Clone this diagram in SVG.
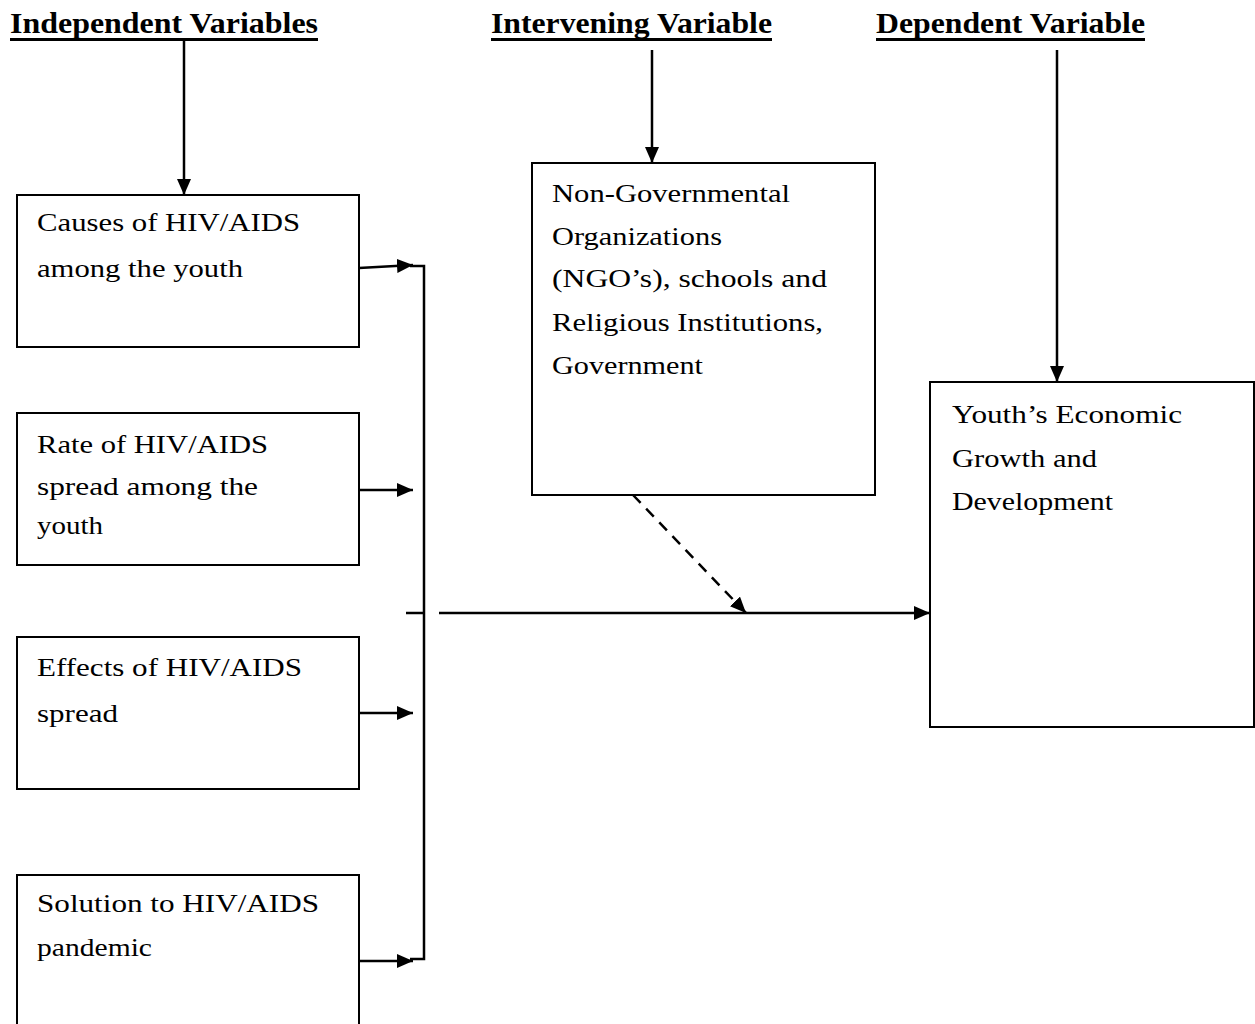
<svg xmlns="http://www.w3.org/2000/svg" width="1255" height="1024" viewBox="0 0 1255 1024">
<style>
.box{fill:#fff;stroke:#000;stroke-width:2}
.t{font-family:"Liberation Serif","Times New Roman",serif;font-size:26px;fill:#000}
.h{font-family:"Liberation Serif","Times New Roman",serif;font-size:29px;font-weight:bold;fill:#000}
.ln{stroke:#000;stroke-width:2.5;fill:none}
.ul{stroke:#000;stroke-width:3}
</style>
<defs>
<marker id="ahb" markerWidth="16" markerHeight="14" refX="16" refY="7" orient="auto" markerUnits="userSpaceOnUse" viewBox="0 0 16 14">
<path d="M0,0 L16,7 L0,14 z" fill="#000"/>
</marker>
</defs>
<g id="headers">
<text class="h" x="10" y="33" textLength="308" lengthAdjust="spacingAndGlyphs">Independent Variables</text>
<line class="ul" x1="10" y1="39.5" x2="318" y2="39.5"/>
<text class="h" x="491" y="33" textLength="281" lengthAdjust="spacingAndGlyphs">Intervening Variable</text>
<line class="ul" x1="491" y1="39.5" x2="772" y2="39.5"/>
<text class="h" x="876" y="33" textLength="269" lengthAdjust="spacingAndGlyphs">Dependent Variable</text>
<line class="ul" x1="876" y1="39.5" x2="1145" y2="39.5"/>
</g>
<g id="node-causes">
<rect class="box" x="17" y="195" width="342" height="152"/>
<text class="t" x="37" y="231" textLength="263" lengthAdjust="spacingAndGlyphs">Causes of HIV/AIDS</text>
<text class="t" x="37" y="277" textLength="206" lengthAdjust="spacingAndGlyphs">among the youth</text>
</g>
<g id="node-rate">
<rect class="box" x="17" y="413" width="342" height="152"/>
<text class="t" x="37" y="453" textLength="231" lengthAdjust="spacingAndGlyphs">Rate of HIV/AIDS</text>
<text class="t" x="37" y="495" textLength="221" lengthAdjust="spacingAndGlyphs">spread among the</text>
<text class="t" x="37" y="534" textLength="66" lengthAdjust="spacingAndGlyphs">youth</text>
</g>
<g id="node-effects">
<rect class="box" x="17" y="637" width="342" height="152"/>
<text class="t" x="37" y="676" textLength="265" lengthAdjust="spacingAndGlyphs">Effects of HIV/AIDS</text>
<text class="t" x="37" y="722" textLength="81" lengthAdjust="spacingAndGlyphs">spread</text>
</g>
<g id="node-solution">
<rect class="box" x="17" y="875" width="342" height="160"/>
<text class="t" x="37" y="912" textLength="282" lengthAdjust="spacingAndGlyphs">Solution to HIV/AIDS</text>
<text class="t" x="37" y="956" textLength="115" lengthAdjust="spacingAndGlyphs">pandemic</text>
</g>
<g id="node-ngo">
<rect class="box" x="532" y="163" width="343" height="332"/>
<text class="t" x="552" y="202" textLength="238" lengthAdjust="spacingAndGlyphs">Non-Governmental</text>
<text class="t" x="552" y="245" textLength="170" lengthAdjust="spacingAndGlyphs">Organizations</text>
<text class="t" x="552" y="287" textLength="275" lengthAdjust="spacingAndGlyphs">(NGO’s), schools and</text>
<text class="t" x="552" y="331" textLength="271" lengthAdjust="spacingAndGlyphs">Religious Institutions,</text>
<text class="t" x="552" y="374" textLength="151" lengthAdjust="spacingAndGlyphs">Government</text>
</g>
<g id="node-youth">
<rect class="box" x="930" y="382" width="324" height="345"/>
<text class="t" x="952" y="423" textLength="230" lengthAdjust="spacingAndGlyphs">Youth’s Economic</text>
<text class="t" x="952" y="467" textLength="145" lengthAdjust="spacingAndGlyphs">Growth and</text>
<text class="t" x="952" y="510" textLength="161" lengthAdjust="spacingAndGlyphs">Development</text>
</g>
<g id="connectors">
<line class="ln" x1="184" y1="41" x2="184" y2="195" marker-end="url(#ahb)"/>
<line class="ln" x1="652" y1="50" x2="652" y2="163" marker-end="url(#ahb)"/>
<line class="ln" x1="1057" y1="50" x2="1057" y2="382" marker-end="url(#ahb)"/>
<line class="ln" x1="359" y1="268" x2="413" y2="265" marker-end="url(#ahb)"/>
<polyline class="ln" points="410,266 424,266 424,959 410,959"/>
<line class="ln" x1="359" y1="490" x2="413" y2="490" marker-end="url(#ahb)"/>
<line class="ln" x1="359" y1="713" x2="413" y2="713" marker-end="url(#ahb)"/>
<line class="ln" x1="359" y1="961" x2="413" y2="961" marker-end="url(#ahb)"/>
<line class="ln" x1="406" y1="613" x2="424" y2="613"/>
<line class="ln" x1="439" y1="613" x2="930" y2="613" marker-end="url(#ahb)"/>
<line class="ln" x1="633" y1="495" x2="746" y2="613" stroke-dasharray="11,8" marker-end="url(#ahb)"/>
</g>
</svg>
